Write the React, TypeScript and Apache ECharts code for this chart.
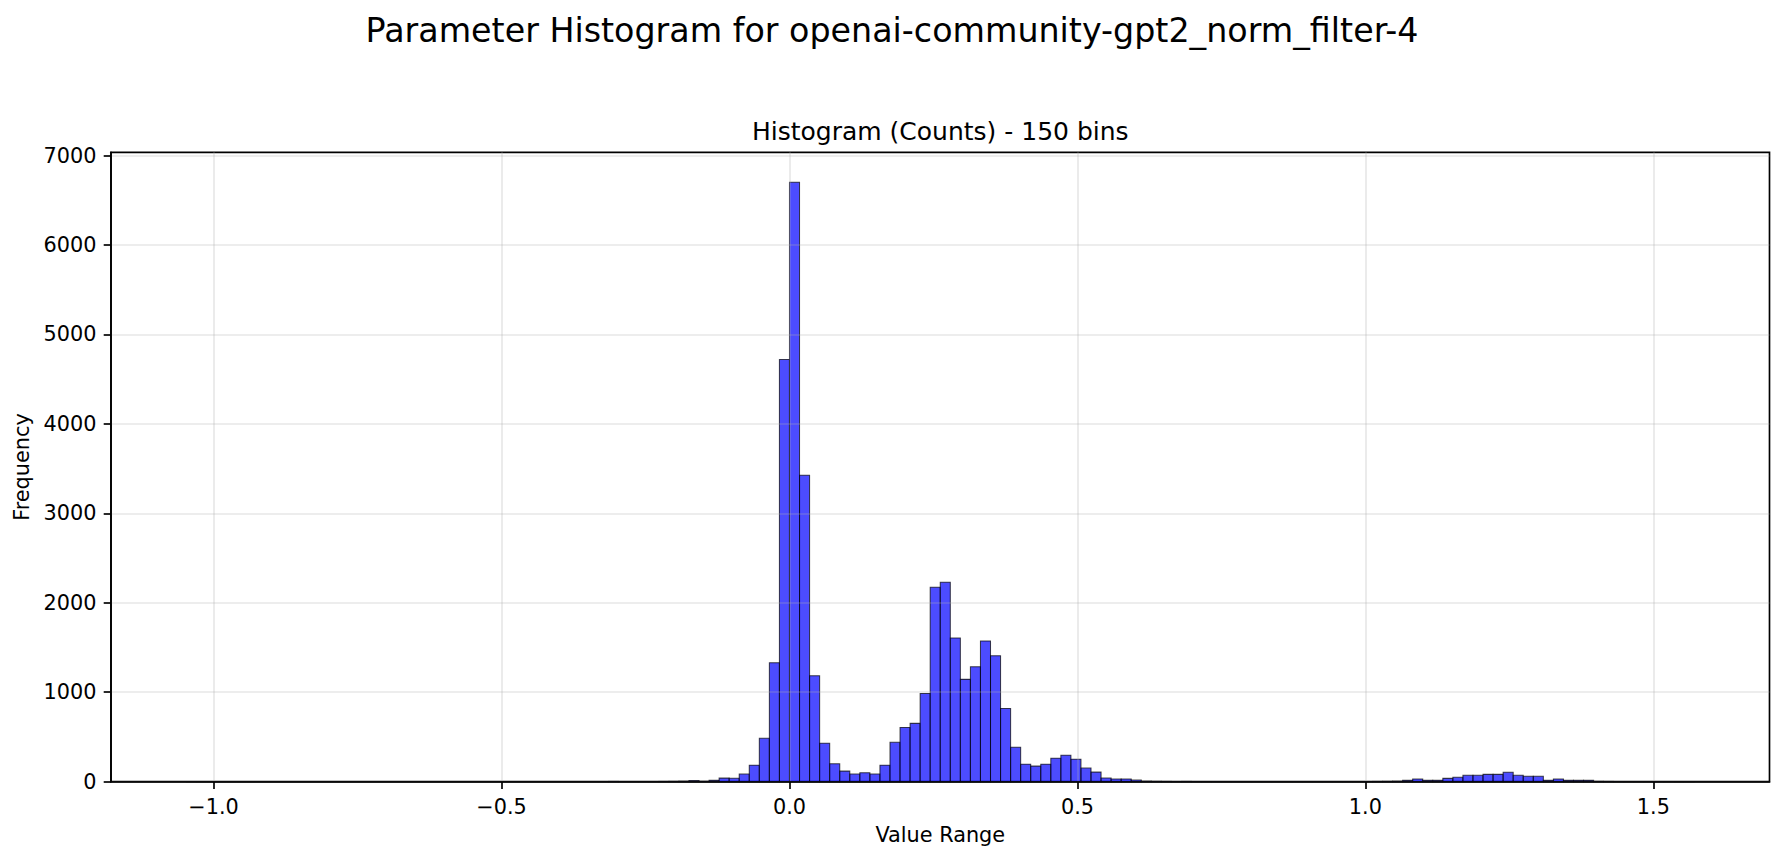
import React, { useEffect, useRef } from "react";
import * as echarts from "echarts";

// ---- data ----
const TITLE = "Parameter Histogram for openai-community-gpt2_norm_filter-4";
const SUBTITLE = "Histogram (Counts) - 150 bins";
const X_NAME = "Value Range";
const Y_NAME = "Frequency";

const BIN_MIN = -1.0472;
const BIN_MAX = 1.5708;

// 150 bin counts, left to right
const COUNTS_LOW = [
  1, 0, 0, 0, 0, 0, 0, 0, 0, 0,
  0, 0, 0, 0, 0, 0, 0, 0, 0, 0,
  0, 0, 0, 0, 0, 0, 0, 0, 0, 0,
  0, 0, 0, 0, 0, 0, 0, 0, 0, 0,
  0, 1, 3, 1, 0, 1, 1, 3, 4, 6,
];
const COUNTS_MID = [
  12, 5, 15, 40, 38, 85, 185, 485, 1330, 4720,
  6701, 3425, 1185, 430, 200, 118, 85, 100, 85, 185,
  440, 607, 652, 985, 2174, 2230, 1607, 1144, 1285, 1574,
  1407, 819, 385, 196, 174, 196, 263, 296, 252, 152,
  107, 41, 30, 30, 18, 6, 4, 3, 2, 3,
];
const COUNTS_HIGH = [
  2, 1, 2, 1, 2, 1, 1, 2, 1, 1,
  2, 1, 1, 2, 1, 2, 1, 2, 3, 4,
  6, 15, 30, 15, 15, 37, 49, 71, 71, 82,
  82, 105, 71, 60, 60, 15, 30, 15, 15, 15,
  4, 3, 2, 1, 2, 1, 2, 1, 0, 1,
];
const COUNTS = [...COUNTS_LOW, ...COUNTS_MID, ...COUNTS_HIGH];

const X_TICKS = [-1.0, -0.5, 0.0, 0.5, 1.0, 1.5];
const Y_TICKS = [0, 1000, 2000, 3000, 4000, 5000, 6000, 7000];

const FONT = "DejaVu Sans";

function fmtX(v: number): string {
  const s = v.toFixed(1);
  return s.startsWith("-") ? "\u2212" + s.slice(1) : s;
}

export default function App() {
  const ref = useRef<HTMLDivElement>(null);

  useEffect(() => {
    document.body.style.margin = "0";
    if (!ref.current) return;
    const chart = echarts.init(ref.current, undefined, { renderer: "svg" });

    const n = COUNTS.length;
    const binW = (BIN_MAX - BIN_MIN) / n;
    const data = COUNTS.map((c, i) => [BIN_MIN + i * binW, BIN_MIN + (i + 1) * binW, c]);
    const span = BIN_MAX - BIN_MIN;
    const xMin = BIN_MIN - 0.05 * span;
    const xMax = BIN_MAX + 0.05 * span;
    const yMax = Math.max(...COUNTS) * 1.05;

    const gridLeft = 111;
    const gridTop = 152.3;
    const gridW = 1658.5;
    const gridH = 629.4;

    chart.setOption({
      animation: false,
      textStyle: { fontFamily: FONT },
      graphic: [
        {
          type: "text",
          x: 892,
          y: 30,
          style: {
            text: TITLE,
            font: `33.3px '${FONT}'`,
            fill: "#000",
            textAlign: "center",
            textVerticalAlign: "middle",
          },
        },
        {
          type: "text",
          x: gridLeft + gridW / 2,
          y: 131,
          style: {
            text: SUBTITLE,
            font: `25px '${FONT}'`,
            fill: "#000",
            textAlign: "center",
            textVerticalAlign: "middle",
          },
        },
      ],
      grid: {
        left: gridLeft,
        top: gridTop,
        width: gridW,
        height: gridH,
        show: true,
        borderColor: "#000",
        borderWidth: 1.67,
        backgroundColor: "transparent",
      },
      xAxis: {
        type: "value",
        min: xMin,
        max: xMax,
        z: 3,
        name: X_NAME,
        nameLocation: "middle",
        nameGap: 43,
        nameTextStyle: { fontFamily: FONT, fontSize: 20.8, color: "#000" },
        axisLine: { show: true, onZero: false, lineStyle: { color: "#000", width: 1.67 } },
        axisTick: {
          show: true,
          length: 7.3,
          inside: false,
          customValues: X_TICKS,
          lineStyle: { color: "#000", width: 1.67 },
        },
        axisLabel: {
          show: true,
          customValues: X_TICKS,
          margin: 14.6,
          fontFamily: FONT,
          fontSize: 20.8,
          color: "#000",
          formatter: (v: number) => fmtX(v),
        },
        splitLine: {
          show: true,
          lineStyle: { color: "rgba(176,176,176,0.3)", width: 1.67 },
        },
      },
      yAxis: {
        type: "value",
        min: 0,
        max: yMax,
        z: 3,
        name: Y_NAME,
        nameLocation: "middle",
        nameGap: 77,
        nameRotate: 90,
        nameTextStyle: { fontFamily: FONT, fontSize: 20.8, color: "#000" },
        axisLine: { show: true, onZero: false, lineStyle: { color: "#000", width: 1.67 } },
        axisTick: {
          show: true,
          length: 7.3,
          inside: false,
          customValues: Y_TICKS,
          lineStyle: { color: "#000", width: 1.67 },
        },
        axisLabel: {
          show: true,
          customValues: Y_TICKS,
          margin: 14.6,
          fontFamily: FONT,
          fontSize: 20.8,
          color: "#000",
          formatter: (v: number) => String(Math.round(v)),
        },
        splitLine: {
          show: true,
          lineStyle: { color: "rgba(176,176,176,0.3)", width: 1.67 },
        },
      },
      series: [
        {
          type: "custom",
          z: 1,
          data,
          encode: { x: [0, 1], y: 2 },
          renderItem: (_params: any, api: any) => {
            const x0 = api.value(0);
            const x1 = api.value(1);
            const c = api.value(2);
            const p0 = api.coord([x0, c]);
            const p1 = api.coord([x1, 0]);
            return {
              type: "rect",
              shape: { x: p0[0], y: p0[1], width: p1[0] - p0[0], height: p1[1] - p0[1] },
              style: {
                fill: "rgba(0,0,255,0.7)",
                stroke: "rgba(0,0,0,0.7)",
                lineWidth: 1.04,
              },
            };
          },
        },
      ],
    });

    return () => chart.dispose();
  }, []);

  return <div ref={ref} style={{ width: 1784, height: 860 }} />;
}
